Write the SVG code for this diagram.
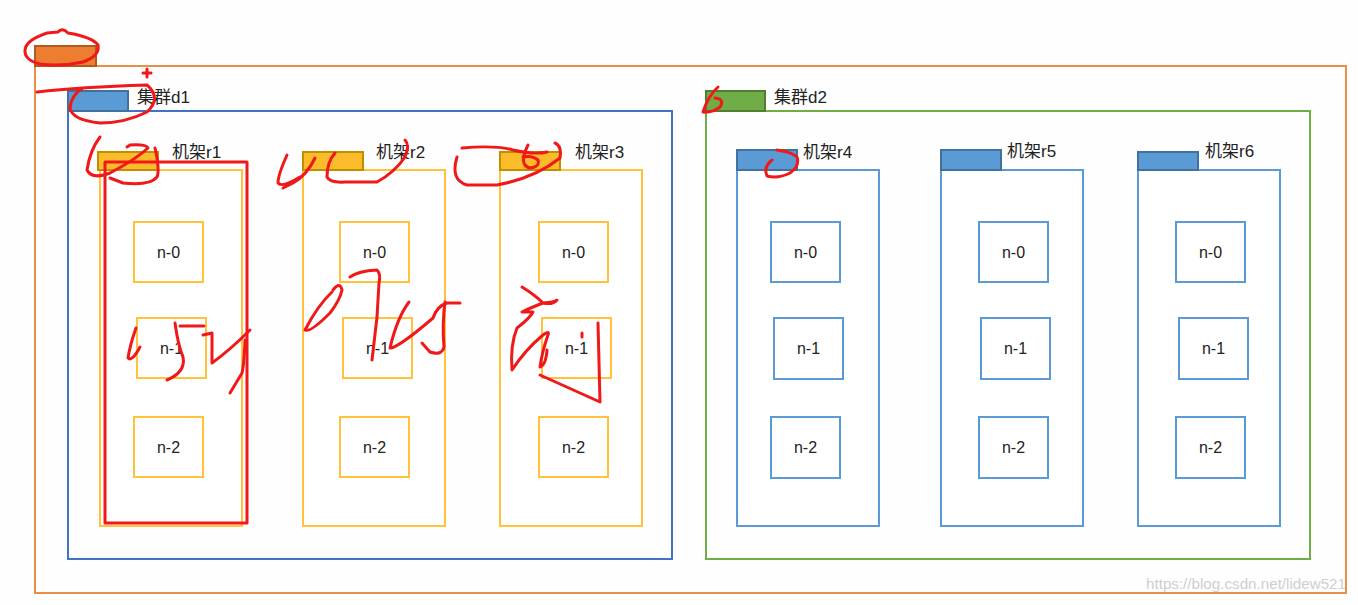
<svg xmlns="http://www.w3.org/2000/svg" width="1358" height="605" viewBox="0 0 1358 605">
<style>
.lbl{font-family:"Liberation Sans","Noto Sans CJK SC",sans-serif;font-size:17px;fill:#222}
.nt{font-family:"Liberation Sans","Noto Sans CJK SC",sans-serif;font-size:16px;fill:#222;text-anchor:middle}
.y{fill:#fff;stroke:#FFC23A;stroke-width:2}
.b{fill:#fff;stroke:#5B9BD5;stroke-width:2}
.ytab{fill:#FBBB2A;stroke:#BF8F00;stroke-width:2}
.btab{fill:#5B9BD5;stroke:#41719C;stroke-width:2}
.red{fill:none;stroke:#F01818;stroke-width:3;stroke-linecap:round;stroke-linejoin:round}
</style>
<rect width="1358" height="605" fill="#fefefe"/>
<g id="datacenter">
<rect x="35" y="66" width="1311" height="527" fill="none" stroke="#E88E48" stroke-width="2"/>
<rect x="35" y="46" width="61" height="20" fill="#ED7D31" stroke="#AE5A21" stroke-width="2"/>
</g>
<g id="cluster-d1">
<rect x="68" y="111" width="604" height="448" fill="none" stroke="#4472C4" stroke-width="2"/>
<rect x="68" y="91" width="60" height="20" fill="#5B9BD5" stroke="#41719C" stroke-width="2"/>
<text class="lbl" x="137" y="103">集群d1</text>
</g>
<g id="cluster-d2">
<rect x="706" y="111" width="604" height="448" fill="none" stroke="#70AD47" stroke-width="2"/>
<rect x="706" y="91" width="59" height="20" fill="#70AD47" stroke="#507E32" stroke-width="2"/>
<text class="lbl" x="774" y="103">集群d2</text>
</g>
<g id="rack-r1">
<rect class="y" x="100" y="170" width="142" height="356"/>
<rect class="ytab" x="98" y="152" width="60" height="18"/>
<text class="lbl" x="172" y="158">机架r1</text>
<rect class="y" x="134" y="222" width="69" height="60"/><text class="nt" x="168.5" y="258">n-0</text>
<rect class="y" x="137" y="318" width="69" height="60"/><text class="nt" x="171.5" y="354">n-1</text>
<rect class="y" x="134" y="417" width="69" height="60"/><text class="nt" x="168.5" y="453">n-2</text>
</g>
<g id="rack-r2">
<rect class="y" x="303" y="170" width="142" height="356"/>
<rect class="ytab" x="303" y="152" width="60" height="18"/>
<text class="lbl" x="376" y="158">机架r2</text>
<rect class="y" x="340" y="222" width="69" height="60"/><text class="nt" x="374.5" y="258">n-0</text>
<rect class="y" x="343" y="318" width="69" height="60"/><text class="nt" x="377.5" y="354">n-1</text>
<rect class="y" x="340" y="417" width="69" height="60"/><text class="nt" x="374.5" y="453">n-2</text>
</g>
<g id="rack-r3">
<rect class="y" x="500" y="170" width="142" height="356"/>
<rect class="ytab" x="500" y="152" width="60" height="18"/>
<text class="lbl" x="575" y="158">机架r3</text>
<rect class="y" x="539" y="222" width="69" height="60"/><text class="nt" x="573.5" y="258">n-0</text>
<rect class="y" x="542" y="318" width="69" height="60"/><text class="nt" x="576.5" y="354">n-1</text>
<rect class="y" x="539" y="417" width="69" height="60"/><text class="nt" x="573.5" y="453">n-2</text>
</g>
<g id="rack-r4">
<rect class="b" x="737" y="170" width="142" height="356"/>
<rect class="btab" x="737" y="150" width="60" height="20"/>
<text class="lbl" x="803" y="158">机架r4</text>
<rect class="b" x="771" y="222" width="69" height="60"/><text class="nt" x="805.5" y="258">n-0</text>
<rect class="b" x="774" y="318" width="69" height="61"/><text class="nt" x="808.5" y="354">n-1</text>
<rect class="b" x="771" y="417" width="69" height="61"/><text class="nt" x="805.5" y="453">n-2</text>
</g>
<g id="rack-r5">
<rect class="b" x="941" y="170" width="142" height="356"/>
<rect class="btab" x="941" y="150" width="60" height="20"/>
<text class="lbl" x="1007" y="157">机架r5</text>
<rect class="b" x="979" y="222" width="69" height="60"/><text class="nt" x="1013.5" y="258">n-0</text>
<rect class="b" x="981" y="318" width="69" height="61"/><text class="nt" x="1015.5" y="354">n-1</text>
<rect class="b" x="979" y="417" width="69" height="61"/><text class="nt" x="1013.5" y="453">n-2</text>
</g>
<g id="rack-r6">
<rect class="b" x="1138" y="170" width="142" height="356"/>
<rect class="btab" x="1138" y="152" width="60" height="18"/>
<text class="lbl" x="1205" y="157">机架r6</text>
<rect class="b" x="1176" y="222" width="69" height="60"/><text class="nt" x="1210.5" y="258">n-0</text>
<rect class="b" x="1179" y="318" width="69" height="61"/><text class="nt" x="1213.5" y="354">n-1</text>
<rect class="b" x="1176" y="417" width="69" height="61"/><text class="nt" x="1210.5" y="453">n-2</text>
</g>
<g id="connectors"></g>
<g id="annotations">
<rect class="red" x="105" y="162" width="142" height="361"/>
<path class="red" d="M25,50 Q26,40 47,33 L58,32 Q62,27 68,33 Q92,37 98,45 Q100,56 83,62 Q60,67 40,64 Q24,60 25,50"/>
<path class="red" d="M37,92 Q80,87 147,85 Q162,98 147,112 Q125,123 100,123 Q72,120 70,108 Q71,95 83,88"/>
<path class="red" d="M143,73 L151,73 M147,69 L147,77" stroke-width="2"/>
<path class="red" d="M100,137 Q90,150 87,170 Q92,180 110,173 Q135,160 148,148 Q146,144 130,145 L127,147 M155,148 Q160,170 157,177 Q150,186 123,183 L110,178"/>
<path class="red" d="M287,155 Q278,175 278,183 Q282,188 300,177 M315,158 Q307,175 293,183 L283,188"/>
<path class="red" d="M335,153 Q327,162 327,177 Q330,183 345,182 L377,182 Q395,172 405,157 Q410,145 405,140"/>
<path class="red" d="M462,148 Q495,145 513,150 Q535,155 547,152 M457,157 Q450,180 467,185 L497,185 Q535,178 560,158 Q562,146 555,143 M528,145 Q518,165 530,168 Q540,167 538,160 Q532,155 523,157"/>
<path class="red" d="M718,87 Q708,96 703,112 Q712,113 720,107 Q725,99 715,98"/>
<path class="red" d="M777,150 Q792,152 797,157 Q800,166 790,173 Q778,179 767,176 Q763,167 772,160"/>
<path class="red" d="M136,328 Q130,345 128,358 Q132,362 140,347 M175,323 Q178,345 183,357 Q186,372 167,380 M180,326 L204,326 M203,335 L212,333 L212,363 Q230,350 250,330 M245,340 Q244,365 242,373 L230,393"/>
<path class="red" d="M332,292 Q318,305 305,330 Q310,333 330,313 Q340,300 342,290 Q340,281 333,290 M350,277 Q358,271 377,270 Q381,274 379,283 L377,317 L372,360 M409,302 Q397,318 390,348 Q398,348 433,318 Q437,306 447,303 L460,303 M445,302 Q442,325 444,347 Q442,356 430,352 L422,343"/>
<path class="red" d="M522,287 Q535,295 543,303 Q555,302 557,300 Q553,305 543,303 Q530,308 522,312 L533,312 Q530,318 517,328 Q510,345 512,370 Q525,350 543,335 Q550,330 548,335 Q542,352 540,367 Q546,365 547,350 M540,375 L600,402 L598,323 M582,333 L582,337"/>
</g>
<text x="1346" y="589" text-anchor="end" font-family="Liberation Sans,sans-serif" font-size="14" fill="#cfcfcf" textLength="200" lengthAdjust="spacingAndGlyphs">https://blog.csdn.net/lidew521</text>
</svg>
